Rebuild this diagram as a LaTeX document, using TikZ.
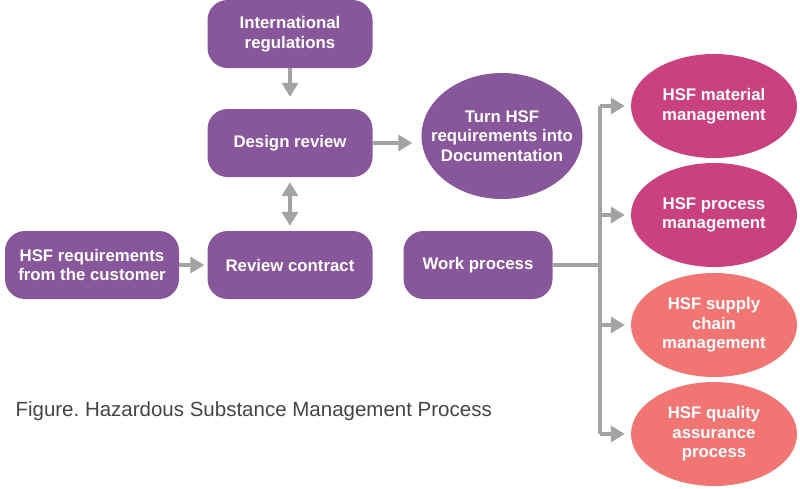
\documentclass[tikz,border=0pt]{standalone}
\usepackage{fontspec}
\setmainfont{Liberation Sans}
\usepackage{tikz}
\usetikzlibrary{arrows.meta,shapes.geometric}

\definecolor{hsfpurple}{HTML}{88569A}
\definecolor{hsfmagenta}{HTML}{C9417E}
\definecolor{hsfcoral}{HTML}{F07573}
\definecolor{hsfgray}{HTML}{A3A3A3}
\definecolor{capgray}{HTML}{444444}

\tikzset{
	box/.style={rounded corners=20pt, fill=hsfpurple, text=white, minimum width=165pt,
		minimum height=68pt, align=center, font=\bfseries\fontsize{16.8}{19.5}\selectfont},
	oval/.style={ellipse, fill=#1, text=white, minimum width=166pt, minimum height=104pt,
		inner sep=0pt, align=center, font=\bfseries\fontsize{16.8}{19.5}\selectfont},
	link/.style={draw=hsfgray, line width=4pt},
	arr/.style={link, -{Triangle[width=16pt,length=14pt]}}
}

\begin{document}
\frenchspacing
\begin{tikzpicture}[x=1pt,y=-1pt]

\useasboundingbox (0,0) rectangle (800,488);

% left column
\node[box] (intl) at (290,34) {International\\regulations};
\node[box] (design) at (290,143) {Design review};
\node[box] (contract) at (290,265) {Review contract};
\node[box, minimum width=174pt] (customer) at (92,265) {HSF requirements\\from the customer};

% middle
\node[oval=hsfpurple, inner xsep=-16pt, minimum width=161pt, minimum height=126pt] (docs) at (502,136) {Turn HSF\\requirements into\\Documentation};
\node[box, minimum width=149pt] (work) at (478,265) {Work process};

% right column
\node[oval=hsfmagenta] (mat) at (714,106) {HSF material\\management};
\node[oval=hsfmagenta] (proc) at (714,215) {HSF process\\management};
\node[oval=hsfcoral] (supply) at (714,325) {HSF supply\\chain\\management};
\node[oval=hsfcoral] (qa) at (714,434) {HSF quality\\assurance\\process};

\node[anchor=west, text=capgray, font=\fontsize{20.5}{24}\selectfont] (cap) at (12,411) {Figure. Hazardous Substance Management Process};

% connectors
\draw[arr, shorten >=12pt] (intl) -- (design);
\draw[arr, shorten >=9pt] (design.east) -- (design.east -| docs.west);
\draw[link, {Triangle[width=16pt,length=14pt]}-{Triangle[width=16pt,length=14pt]}, shorten <=5pt, shorten >=5pt] (design) -- (contract);
\draw[arr, shorten >=3pt] (customer) -- (contract);

\coordinate (jn) at (600,265);
\draw[link] (work) -- (jn);
\draw[link] (jn |- mat) -- (jn |- qa);
\foreach \e in {mat,proc,supply,qa}{
	\draw[arr, shorten >=6pt] (jn |- \e) -- (\e);
}

\end{tikzpicture}
\end{document}
